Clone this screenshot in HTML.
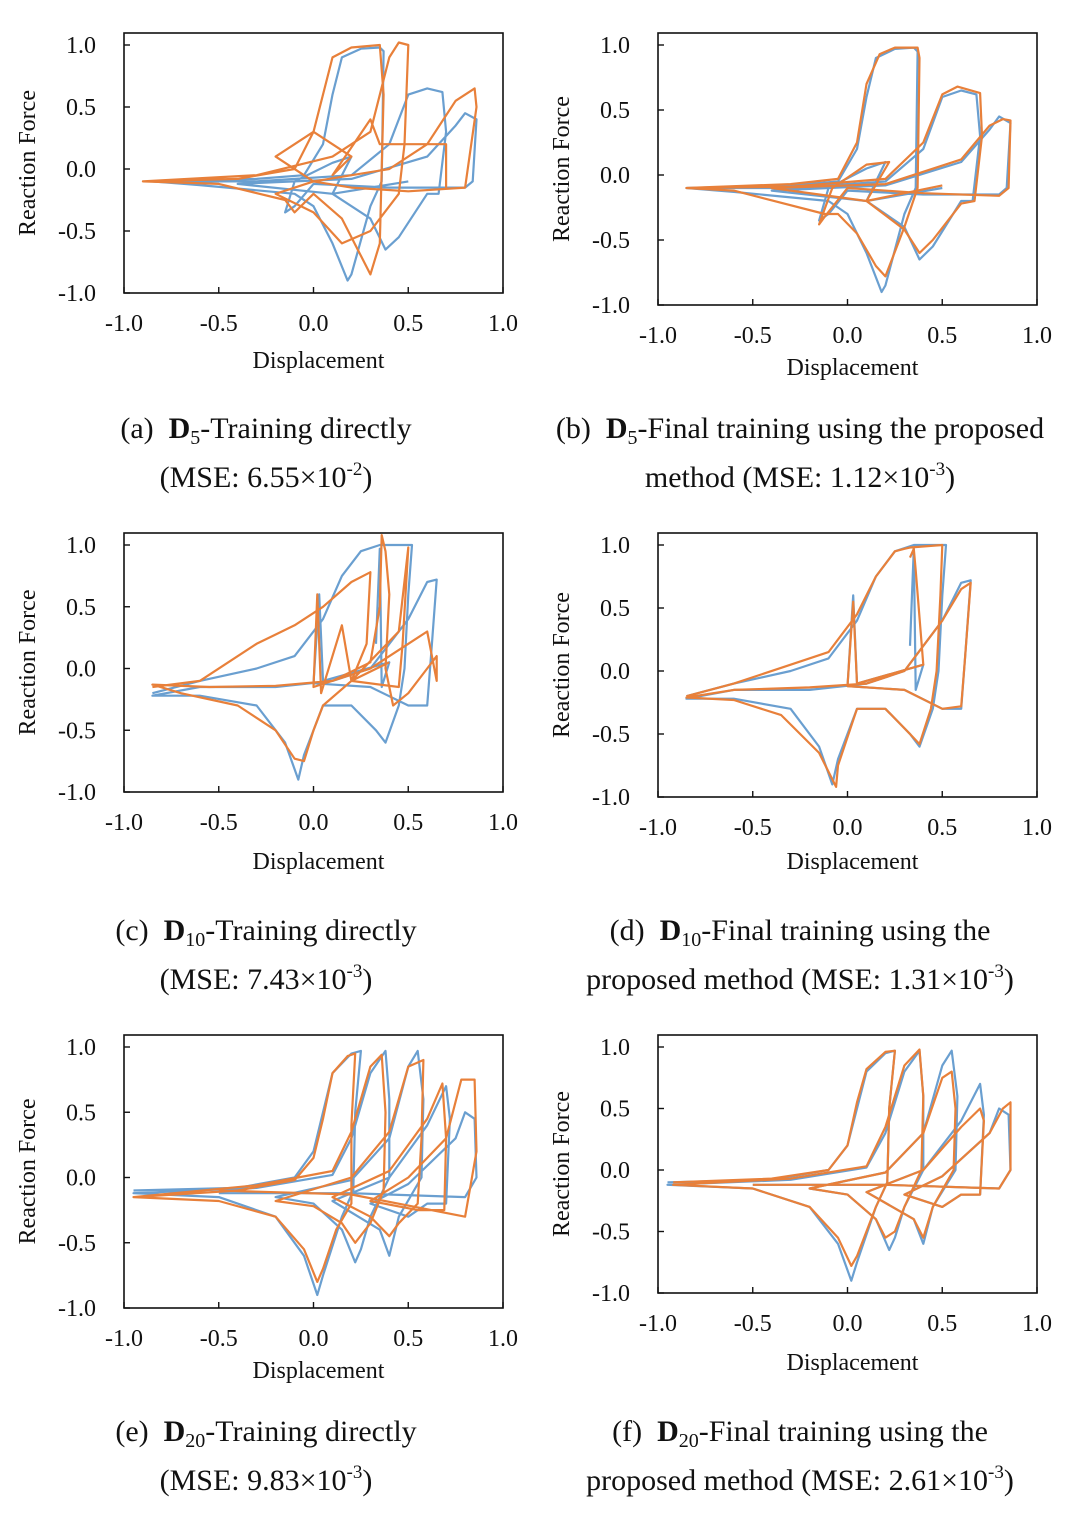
<!DOCTYPE html>
<html><head><meta charset="utf-8">
<style>
html,body{margin:0;padding:0;background:#fff;}
svg{display:block;font-family:"Liberation Serif",serif;}
text{white-space:pre;}
</style></head>
<body>
<svg id="fig" width="1080" height="1514" viewBox="0 0 1080 1514"></svg>
<script>
const xTicks=[-1.0,-0.5,0.0,0.5,1.0];
const yTicks=[1.0,0.5,0.0,-0.5,-1.0];
const tickLabels=["-1.0","-0.5","0.0","0.5","1.0"];

const blueAB=[[-0.85,-0.1],[-0.3,-0.08],[-0.05,-0.05],[0.05,0.2],[0.1,0.6],[0.15,0.9],[0.25,0.97],[0.35,0.98],[0.37,0.95],[0.36,-0.1],[0.3,-0.3],[0.2,-0.85],[0.18,-0.9],[0.1,-0.6],[0,-0.3],[-0.1,-0.2],[-0.6,-0.13],[-0.85,-0.1],[-0.3,-0.1],[0.2,-0.05],[0.4,0.2],[0.5,0.6],[0.6,0.65],[0.68,0.62],[0.7,0.3],[0.66,-0.2],[0.6,-0.2],[0.45,-0.55],[0.38,-0.65],[0.3,-0.4],[0.1,-0.2],[-0.4,-0.12],[0.2,-0.08],[0.6,0.1],[0.75,0.35],[0.8,0.45],[0.86,0.4],[0.84,-0.1],[0.8,-0.15],[0.4,-0.15],[0,-0.12],[-0.1,-0.3],[-0.15,-0.35],[-0.1,-0.1],[0.1,0.05],[0.2,0.1],[0.1,-0.2],[0.5,-0.1]];
const orangeA=[[-0.9,-0.1],[-0.4,-0.08],[-0.1,0],[0,0.3],[0.1,0.9],[0.2,0.98],[0.35,1.0],[0.37,0.6],[0.35,-0.6],[0.3,-0.85],[0.25,-0.7],[0.15,-0.4],[0,-0.2],[-0.1,-0.35],[-0.15,-0.25],[-0.5,-0.12],[-0.9,-0.1],[-0.3,-0.05],[0.1,0.1],[0.3,0.3],[0.4,0.9],[0.45,1.02],[0.5,1.0],[0.48,0.2],[0.45,-0.2],[0.3,-0.5],[0.15,-0.6],[0,-0.35],[-0.2,-0.2],[0,-0.1],[0.4,0],[0.6,0.2],[0.75,0.55],[0.85,0.65],[0.86,0.5],[0.8,-0.15],[0.5,-0.18],[0.2,-0.15],[0,-0.1],[-0.2,0.1],[0,0.3],[0.2,0.1],[0.1,-0.05],[0.3,0.4],[0.35,0.2],[0.7,0.2],[0.7,-0.15]];
const orangeB=[[-0.85,-0.1],[-0.3,-0.07],[-0.05,-0.03],[0.05,0.25],[0.1,0.7],[0.17,0.93],[0.25,0.98],[0.37,0.98],[0.38,0.9],[0.37,-0.1],[0.3,-0.4],[0.2,-0.78],[0.15,-0.7],[0.05,-0.45],[-0.05,-0.3],[-0.12,-0.3],[-0.6,-0.12],[-0.85,-0.1],[-0.3,-0.09],[0.2,-0.03],[0.4,0.25],[0.5,0.62],[0.58,0.68],[0.7,0.63],[0.71,0.3],[0.67,-0.2],[0.6,-0.22],[0.45,-0.5],[0.38,-0.6],[0.3,-0.42],[0.1,-0.2],[-0.4,-0.1],[0.2,-0.07],[0.6,0.12],[0.75,0.38],[0.82,0.43],[0.86,0.42],[0.85,-0.1],[0.8,-0.16],[0.4,-0.14],[0,-0.1],[-0.12,-0.32],[-0.15,-0.38],[-0.08,-0.1],[0.1,0.08],[0.22,0.1],[0.1,-0.2],[0.5,-0.08]];
const blueCD=[[-0.85,-0.2],[-0.6,-0.1],[-0.3,0],[-0.1,0.1],[0.05,0.4],[0.15,0.75],[0.25,0.95],[0.35,1.0],[0.52,1.0],[0.5,0.6],[0.48,0],[0.45,-0.3],[0.38,-0.6],[0.33,-0.5],[0.2,-0.3],[0.05,-0.3],[-0.05,-0.7],[-0.08,-0.9],[-0.15,-0.6],[-0.3,-0.3],[-0.6,-0.22],[-0.85,-0.22],[-0.6,-0.15],[-0.2,-0.15],[0.1,-0.1],[0.3,0],[0.5,0.4],[0.6,0.7],[0.65,0.72],[0.62,0.1],[0.6,-0.3],[0.5,-0.3],[0.3,-0.15],[0,-0.12],[0.03,0.6],[0.05,-0.1],[0.4,0.05],[0.36,-0.15],[0.35,0.97],[0.33,0.2]];
const orangeC=[[-0.85,-0.15],[-0.6,-0.1],[-0.3,0.2],[-0.1,0.35],[0.05,0.5],[0.2,0.7],[0.3,0.78],[0.28,0.2],[0.2,-0.1],[0.05,-0.3],[0,-0.5],[-0.05,-0.75],[-0.1,-0.73],[-0.2,-0.5],[-0.4,-0.3],[-0.7,-0.2],[-0.85,-0.13],[-0.55,-0.15],[-0.2,-0.14],[0.1,-0.1],[0.3,0.05],[0.35,0.5],[0.36,1.08],[0.38,0.95],[0.4,0.6],[0.38,0],[0.42,-0.3],[0.5,-0.2],[0.6,0],[0.65,0.1],[0.65,-0.1],[0.6,0.3],[0.5,0.2],[0.3,0],[0,-0.15],[0.02,0.6],[0.04,-0.2],[0.15,0.35],[0.2,-0.1],[0.45,0.3],[0.5,0.98],[0.47,0.2],[0.45,-0.15],[0.2,-0.1],[0.4,0.05]];
const orangeD=[[-0.85,-0.2],[-0.6,-0.1],[-0.3,0.05],[-0.1,0.15],[0.05,0.45],[0.15,0.75],[0.25,0.95],[0.3,0.97],[0.33,0.98],[0.5,1.0],[0.49,0.6],[0.47,0],[0.44,-0.3],[0.38,-0.58],[0.33,-0.5],[0.2,-0.3],[0.05,-0.3],[-0.05,-0.75],[-0.06,-0.92],[-0.15,-0.65],[-0.35,-0.35],[-0.6,-0.23],[-0.85,-0.21],[-0.6,-0.15],[-0.2,-0.13],[0.1,-0.1],[0.3,0],[0.5,0.4],[0.6,0.65],[0.65,0.7],[0.62,0.1],[0.6,-0.28],[0.5,-0.3],[0.3,-0.15],[0,-0.12],[0.03,0.55],[0.05,-0.1],[0.4,0.05],[0.36,0.8],[0.35,0.97],[0.33,0.9]];
const blueEF=[[-0.95,-0.1],[-0.4,-0.08],[-0.1,0],[0,0.2],[0.05,0.5],[0.1,0.8],[0.2,0.95],[0.25,0.97],[0.22,0.5],[0.21,-0.1],[0.15,-0.3],[0.05,-0.75],[0.02,-0.9],[-0.05,-0.6],[-0.2,-0.3],[-0.5,-0.15],[-0.95,-0.12],[-0.3,-0.08],[0.1,0.02],[0.2,0.3],[0.3,0.8],[0.38,0.97],[0.4,0.6],[0.4,0],[0.3,-0.3],[0.25,-0.55],[0.22,-0.65],[0.15,-0.4],[0,-0.2],[-0.2,-0.15],[0.2,-0.02],[0.4,0.3],[0.5,0.85],[0.55,0.97],[0.58,0.6],[0.57,0],[0.45,-0.3],[0.4,-0.6],[0.35,-0.4],[0.1,-0.18],[0.4,0],[0.6,0.4],[0.7,0.7],[0.72,0.45],[0.7,-0.2],[0.6,-0.2],[0.5,-0.3],[0.3,-0.2],[0.5,-0.05],[0.75,0.3],[0.8,0.5],[0.85,0.45],[0.86,0],[0.8,-0.15],[0.2,-0.12],[-0.5,-0.12]];
const orangeE=[[-0.95,-0.15],[-0.4,-0.1],[-0.1,-0.02],[0,0.15],[0.05,0.45],[0.1,0.8],[0.18,0.93],[0.22,0.95],[0.2,0.4],[0.2,-0.2],[0.12,-0.4],[0.05,-0.7],[0.02,-0.8],[-0.05,-0.55],[-0.2,-0.3],[-0.5,-0.18],[-0.95,-0.15],[-0.3,-0.06],[0.1,0.05],[0.2,0.35],[0.3,0.85],[0.36,0.94],[0.38,0.5],[0.37,-0.1],[0.3,-0.35],[0.22,-0.5],[0.15,-0.35],[0,-0.22],[-0.2,-0.18],[0.2,0],[0.4,0.35],[0.5,0.85],[0.58,0.9],[0.57,0.3],[0.55,-0.2],[0.45,-0.35],[0.4,-0.45],[0.3,-0.3],[0.1,-0.15],[0.4,0.05],[0.6,0.45],[0.68,0.72],[0.7,0.3],[0.69,-0.25],[0.55,-0.25],[0.3,-0.18],[0.5,0],[0.7,0.3],[0.78,0.75],[0.85,0.75],[0.86,0.2],[0.8,-0.3],[0.2,-0.13],[-0.5,-0.1]];
const orangeF=[[-0.92,-0.1],[-0.4,-0.07],[-0.1,0],[0,0.2],[0.05,0.55],[0.1,0.82],[0.2,0.96],[0.25,0.97],[0.22,0.5],[0.21,-0.1],[0.15,-0.3],[0.05,-0.7],[0.02,-0.78],[-0.05,-0.55],[-0.2,-0.3],[-0.5,-0.15],[-0.92,-0.12],[-0.3,-0.07],[0.1,0.03],[0.2,0.35],[0.3,0.85],[0.38,0.98],[0.4,0.6],[0.39,0],[0.3,-0.3],[0.25,-0.5],[0.2,-0.55],[0.15,-0.4],[0,-0.2],[-0.2,-0.15],[0.2,-0.02],[0.4,0.3],[0.5,0.75],[0.55,0.8],[0.57,0.5],[0.56,0],[0.45,-0.3],[0.4,-0.55],[0.35,-0.4],[0.1,-0.18],[0.4,0],[0.6,0.35],[0.7,0.5],[0.72,0.4],[0.7,-0.2],[0.6,-0.2],[0.5,-0.3],[0.3,-0.2],[0.5,-0.05],[0.75,0.3],[0.82,0.5],[0.86,0.55],[0.86,0],[0.8,-0.15],[0.2,-0.12],[-0.5,-0.12]];

const panels=[
 {id:"a",x0:124,x1:503,top:33,y1:45,ym1:293,tl:323,dl:360,blue:blueAB,orange:orangeA},
 {id:"b",x0:658,x1:1037,top:33,y1:45,ym1:305,tl:335,dl:367,blue:blueAB,orange:orangeB},
 {id:"c",x0:124,x1:503,top:533,y1:545,ym1:792,tl:822,dl:861,blue:blueCD,orange:orangeC},
 {id:"d",x0:658,x1:1037,top:533,y1:545,ym1:797,tl:827,dl:861,blue:blueCD,orange:orangeD},
 {id:"e",x0:124,x1:503,top:1035,y1:1047,ym1:1308,tl:1338,dl:1370,blue:blueEF,orange:orangeE},
 {id:"f",x0:658,x1:1037,top:1035,y1:1047,ym1:1293,tl:1323,dl:1362,blue:blueEF,orange:orangeF}
];
const captions=[
 {x:266,y:428,l:"(a)  ",sub:"5",r:"-Training directly",x2:266,y2:477,m:"(MSE: 6.55×10",e:"-2",t:")"},
 {x:800,y:428,l:"(b)  ",sub:"5",r:"-Final training using the proposed",x2:800,y2:477,m:"method (MSE: 1.12×10",e:"-3",t:")"},
 {x:266,y:930,l:"(c)  ",sub:"10",r:"-Training directly",x2:266,y2:979,m:"(MSE: 7.43×10",e:"-3",t:")"},
 {x:800,y:930,l:"(d)  ",sub:"10",r:"-Final training using the",x2:800,y2:979,m:"proposed method (MSE: 1.31×10",e:"-3",t:")"},
 {x:266,y:1431,l:"(e)  ",sub:"20",r:"-Training directly",x2:266,y2:1480,m:"(MSE: 9.83×10",e:"-3",t:")"},
 {x:800,y:1431,l:"(f)  ",sub:"20",r:"-Final training using the",x2:800,y2:1480,m:"proposed method (MSE: 2.61×10",e:"-3",t:")"}
];
const NS="http://www.w3.org/2000/svg";
const svg=document.getElementById('fig');
function mk(tag,attrs,parent){const e=document.createElementNS(NS,tag);for(const k in attrs)e.setAttribute(k,attrs[k]);(parent||svg).appendChild(e);return e;}
panels.forEach(p=>{
 const g=mk('g',{});
 
 
 const sx=v=>p.x0+(v+1)/2*(p.x1-p.x0);
 const sy=v=>p.ym1-(v+1)/2*(p.ym1-p.y1);
 const bot=p.ym1;
 const frame=mk('rect',{x:p.x0,y:p.top,width:p.x1-p.x0,height:bot-p.top,fill:'none',stroke:'#111','stroke-width':1.6},g);
 
 
 xTicks.forEach((v,i)=>{
  mk('line',{x1:sx(v),x2:sx(v),y1:bot,y2:bot-6,stroke:'#111','stroke-width':1.4},g);
  const t=mk('text',{x:sx(v),y:p.tl+8,'font-size':24,'text-anchor':'middle',fill:'#111'},g);
  t.textContent=tickLabels[i];
  
  
 });
 yTicks.forEach((v,i)=>{
  mk('line',{x1:p.x0,x2:p.x0+6,y1:sy(v),y2:sy(v),stroke:'#111','stroke-width':1.4},g);
  const t=mk('text',{x:p.x0-28,y:sy(v)+8,'font-size':24,'text-anchor':'end',fill:'#111'},g);
  t.textContent=tickLabels[4-i];
  
  
 });
 const xt=mk('text',{x:(p.x0+p.x1)/2+5,y:p.dl+8,'font-size':24,'text-anchor':'middle',fill:'#111'},g);
 xt.textContent='Displacement';
 
 
 const cy=(p.top+bot)/2;
 const yx=p.x0-89;
 const yt=mk('text',{x:yx,y:cy,'font-size':24,'text-anchor':'middle',fill:'#111',transform:`rotate(-90 ${yx} ${cy})`},g);
 yt.textContent='Reaction Force';
 
 
 const cp=mk('clipPath',{id:'clip'+p.id},g);
 mk('rect',{x:p.x0,y:p.top,width:p.x1-p.x0,height:bot-p.top},cp);
 [['blue','#6a9fd0'],['orange','#e8803a']].forEach(([k,c])=>{
  const d=p[k].map((pt,i)=>(i?'L':'M')+sx(pt[0]).toFixed(1)+' '+sy(pt[1]).toFixed(1)).join(' ');
  const path=mk('path',{d:d,fill:'none',stroke:c,'stroke-width':2.2,'stroke-linejoin':'round','clip-path':`url(#clip${p.id})`},g);
  
  
 });
});
captions.forEach((c,i)=>{
 const t=mk('text',{x:c.x,y:c.y+10,'font-size':30,'text-anchor':'middle',fill:'#111'});
 
 
 mk('tspan',{},t).textContent=c.l;
 mk('tspan',{'font-weight':'bold'},t).textContent='D';
 mk('tspan',{'font-size':20,dy:6},t).textContent=c.sub;
 mk('tspan',{dy:-6},t).textContent=c.r;
 const t2=mk('text',{x:c.x2,y:c.y2+10,'font-size':30,'text-anchor':'middle',fill:'#111'});
 
 
 mk('tspan',{},t2).textContent=c.m;
 mk('tspan',{'font-size':19,dy:-12},t2).textContent=c.e;
 mk('tspan',{dy:12},t2).textContent=c.t;
});
</script>
</body></html>
